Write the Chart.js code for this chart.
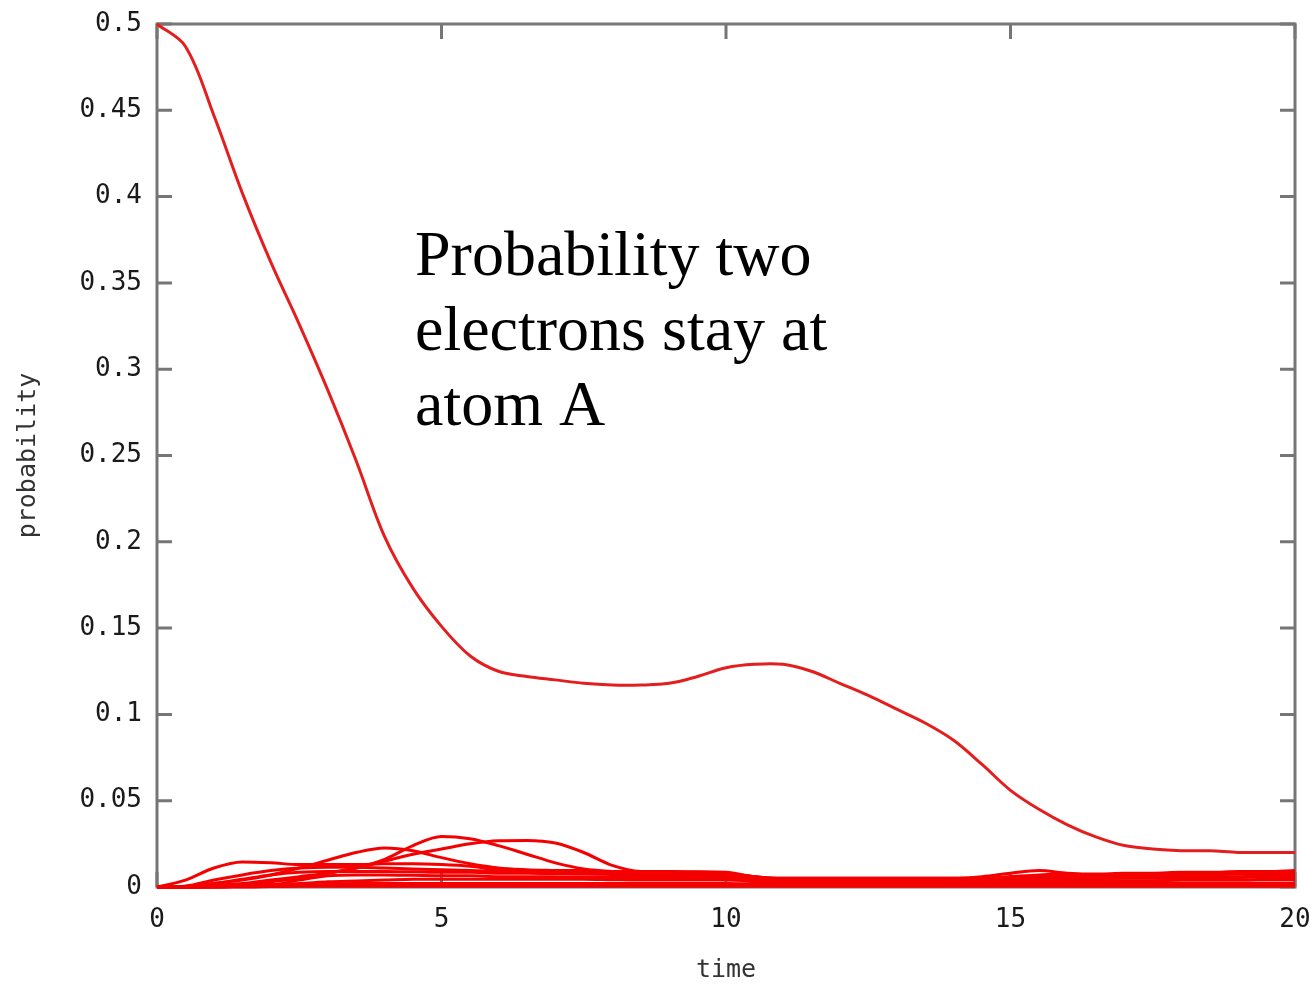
<!DOCTYPE html>
<html>
<head>
<meta charset="utf-8">
<script src="https://cdn.jsdelivr.net/npm/chart.js@4"></script>
<style>
html, body { margin: 0; padding: 0; background: #fff; }
canvas { display: block; }
</style>
</head>
<body>
<canvas id="chart" width="1315" height="986"></canvas>
<script>
const times = [0, 0.5, 1, 1.5, 2, 2.5, 3, 3.5, 4, 4.5, 5, 5.5, 6, 6.5, 7, 7.5, 8, 8.5, 9, 9.5,
    10, 10.5, 11, 11.5, 12, 12.5, 13, 13.5, 14, 14.5, 15, 15.5, 16, 16.5, 17, 17.5, 18, 18.5, 19, 19.5, 20];
const yTickLabels = ['0', '0.05', '0.1', '0.15', '0.2', '0.25', '0.3', '0.35', '0.4', '0.45', '0.5'];

// two electrons both on atom A
const probA = [0.5, 0.487, 0.447, 0.402, 0.362, 0.326, 0.288, 0.247, 0.203, 0.173, 0.151, 0.134, 0.125,
    0.122, 0.120, 0.118, 0.117, 0.117, 0.118, 0.122, 0.127, 0.129, 0.129, 0.125, 0.118, 0.111, 0.103,
    0.095, 0.085, 0.071, 0.056, 0.045, 0.036, 0.029, 0.024, 0.022, 0.021, 0.021, 0.020, 0.020, 0.020];

// the other configurations, all small
const p1 = [0, .004, .011, .0145, .014, .013, .013, .013, .0135, .0135, .013, .012, .010, .0095, .0095, .0095,
    .009, .009, .009, .0088, .0085, .006, .005, .005, .005, .005, .005, .005, .005, .006, .008, .0095, .008,
    .0075, .008, .008, .0085, .0085, .009, .009, .0095];
const p2 = [0, .0005, .002, .004, .007, .011, .0155, .020, .0226, .021, .017, .0135, .011, .010, .0095, .009,
    .0085, .008, .0075, .007, .006, .005, .004, .004, .004, .004, .004, .004, .004, .004, .005, .006, .006,
    .0065, .0065, .007, .007, .007, .0075, .0075, .008];
const p3 = [0, 0, .001, .002, .004, .006, .008, .011, .016, .024, .0293, .028, .024, .019, .014, .0105, .009,
    .0085, .008, .008, .0075, .006, .004, .003, .003, .003, .003, .003, .003, .003, .004, .005, .005, .0055,
    .0055, .006, .006, .006, .006, .0065, .0065];
const p4 = [0, 0, .0005, .0015, .003, .005, .008, .011, .015, .019, .022, .025, .0268, .027, .0255, .020, .0125,
    .009, .0088, .0085, .008, .006, .005, .005, .005, .005, .005, .005, .005, .005, .006, .007, .0075, .007,
    .007, .0075, .008, .008, .008, .0085, .0085];
const p5 = [0, .0005, .004, .007, .0095, .011, .0115, .0115, .011, .0105, .010, .0095, .009, .0085, .0085, .0085,
    .008, .008, .008, .0075, .007, .004, .003, .003, .003, .003, .003, .003, .003, .0035, .006, .006, .0065,
    .0065, .007, .007, .007, .0075, .0075, .008, .008];
const p6 = [0, 0, .002, .0045, .007, .0085, .009, .009, .009, .0088, .0085, .0085, .008, .008, .0078, .0075,
    .0072, .007, .007, .0068, .0065, .004, .002, .002, .002, .002, .002, .002, .002, .002, .003, .004, .0045,
    .0045, .005, .005, .0055, .0055, .0055, .006, .006];
const p7 = [0, 0, 0, .0005, .001, .004, .0065, .007, .007, .0068, .0065, .0065, .006, .006, .006, .0058, .0055,
    .0055, .0055, .0055, .005, .003, .0015, .0015, .0015, .0015, .0015, .0015, .0015, .0015, .002, .0025,
    .003, .003, .0035, .0035, .004, .004, .004, .0045, .0045];
const p8 = [0, 0, .0005, .001, .0015, .002, .003, .0035, .004, .0045, .0045, .0045, .0045, .0045, .0045, .0045,
    .0042, .004, .004, .004, .004, .0035, .003, .003, .003, .003, .003, .003, .003, .003, .003, .0035, .0035,
    .0035, .0035, .0035, .004, .004, .004, .004, .004];
const p9 = [0, 0, 0, .0005, .001, .0012, .0015, .002, .002, .002, .002, .002, .002, .002, .002, .002, .002,
    .002, .002, .002, .002, .0018, .0015, .0015, .0015, .0015, .0015, .0015, .0015, .0015, .0015, .0018,
    .002, .002, .002, .002, .002, .002, .002, .002, .002];
const p10 = [0, 0, 0, 0, .0003, .0005, .0005, .0005, .0005, .0005, .0005, .0005, .0005, .0005, .0005, .0005,
    .0005, .0005, .0005, .0005, .0005, .0005, .0005, .0005, .0005, .0005, .0005, .0005, .0005, .0005, .0005,
    .0005, .0005, .0005, .0005, .0005, .0005, .0005, .0005, .0005, .0005];

const smallSeries = [p1, p2, p3, p4, p5, p6, p7, p8, p9, p10];

function toPoints(values) {
    return values.map((v, i) => ({ x: times[i], y: v }));
}

function lineSet(values, color, tension) {
    return {
        data: toPoints(values),
        borderColor: color,
        borderWidth: 3,
        pointRadius: 0,
        tension: tension,
        cubicInterpolationMode: tension ? 'default' : 'monotone',
        clip: 4
    };
}

const datasets = smallSeries.map((s) => lineSet(s, 'rgb(245, 0, 0)', 0));
datasets.push(lineSet(probA, 'rgb(228, 30, 30)', 0.35));

const monoFont = '"DejaVu Sans Mono", monospace';

const framePlugin = {
    id: 'frame',
    beforeDatasetsDraw(chart) {
        const { ctx, chartArea: a, scales: { x, y } } = chart;
        ctx.save();
        ctx.strokeStyle = '#767676';
        ctx.lineWidth = 3;
        ctx.strokeRect(a.left, a.top, a.right - a.left, a.bottom - a.top);
        ctx.beginPath();
        x.ticks.forEach((t) => {
            const px = x.getPixelForValue(t.value);
            ctx.moveTo(px, a.top);
            ctx.lineTo(px, a.top + 15);
            ctx.moveTo(px, a.bottom);
            ctx.lineTo(px, a.bottom - 15);
        });
        y.ticks.forEach((t) => {
            const py = y.getPixelForValue(t.value);
            ctx.moveTo(a.left, py);
            ctx.lineTo(a.left + 15, py);
            ctx.moveTo(a.right, py);
            ctx.lineTo(a.right - 15, py);
        });
        ctx.stroke();
        ctx.restore();
    },
    afterDraw(chart) {
        const { ctx, chartArea: a } = chart;
        ctx.save();
        ctx.fillStyle = '#000';
        ctx.font = '64px "Liberation Serif", "Times New Roman", serif';
        ctx.textBaseline = 'alphabetic';
        ctx.textAlign = 'left';
        const lines = ['Probability two', 'electrons stay at', 'atom A'];
        lines.forEach((line, i) => {
            ctx.fillText(line, a.left + 258, a.top + 251 + i * 75);
        });
        ctx.restore();
    }
};

new Chart(document.getElementById('chart'), {
    type: 'line',
    data: { datasets: datasets },
    options: {
        responsive: false,
        animation: false,
        layout: { padding: { top: 24, right: 20, left: 0, bottom: 0 } },
        plugins: {
            legend: { display: false },
            tooltip: { enabled: false }
        },
        scales: {
            x: {
                type: 'linear',
                min: 0,
                max: 20,
                grid: { display: false, drawTicks: false },
                border: { display: false },
                ticks: {
                    stepSize: 5,
                    padding: 18,
                    color: '#1a1a1a',
                    font: { family: monoFont, size: 26 }
                },
                title: {
                    display: true,
                    text: 'time',
                    color: '#333',
                    font: { family: monoFont, size: 25 },
                    padding: { top: 0, bottom: 1 }
                },
                afterFit(scale) {
                    scale.height = 99;
                    scale.paddingLeft = 0;
                    scale.paddingRight = 0;
                }
            },
            y: {
                min: 0,
                max: 0.5,
                grid: { display: false, drawTicks: false },
                border: { display: false },
                ticks: {
                    stepSize: 0.05,
                    padding: 15,
                    color: '#1a1a1a',
                    font: { family: monoFont, size: 26 },
                    callback: (v, i) => yTickLabels[i]
                },
                title: {
                    display: true,
                    text: 'probability',
                    color: '#333',
                    font: { family: monoFont, size: 25 },
                    padding: { top: 13, bottom: 0 }
                },
                afterFit(scale) {
                    scale.width = 157;
                    scale.paddingTop = 0;
                    scale.paddingBottom = 0;
                }
            }
        }
    },
    plugins: [framePlugin]
});
</script>
</body>
</html>
